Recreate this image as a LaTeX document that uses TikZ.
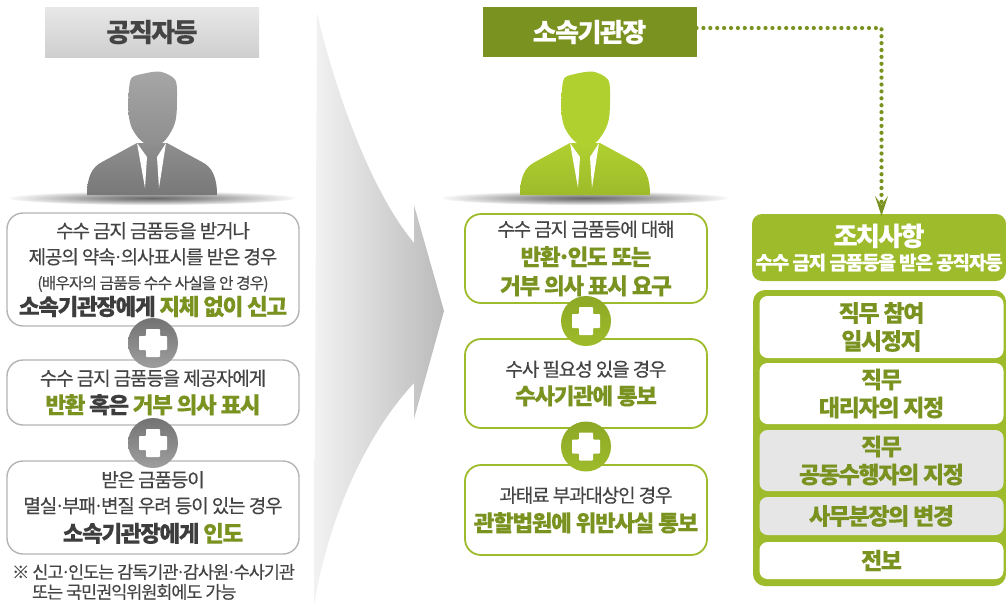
\documentclass[tikz,border=0pt]{standalone}
\usepackage{fontspec}
\setmainfont{Noto Sans CJK KR}[LetterSpace=-6, FakeBold=0.25]
\usetikzlibrary{positioning, calc, arrows.meta}
\definecolor{leafdark}{HTML}{7A9220}
\definecolor{leaf}{HTML}{9DBB2A}
\definecolor{leaflight}{HTML}{B0D030}
\definecolor{inkgray}{HTML}{444444}
\definecolor{rimgray}{HTML}{B4B4B4}
\definecolor{panelgray}{HTML}{E6E6E6}
\definecolor{suithead}{HTML}{A6A6A6}
\definecolor{suittop}{HTML}{8E8E8E}
\definecolor{suitlow}{HTML}{787878}
\pgfdeclareradialshading{floorshade}{\pgfpoint{0bp}{0bp}}{rgb(0bp)=(0.4,0.4,0.4);rgb(10bp)=(0.6,0.6,0.6);rgb(26bp)=(1,1,1)}
\newcommand{\hl}[1]{{\bfseries\color{leafdark}#1}}
\newcommand{\bk}[1]{{\bfseries\color{inkgray!90!black}#1}}
\newcommand{\bigline}[1]{{\fontsize{22.5}{26}\selectfont #1}}
\newcommand{\mdot}{\kern-.15em·\kern-.15em}
\tikzset{
    every node/.style={inner sep=0pt, outer sep=0pt, align=center, text=inkgray, font=\fontsize{19}{26}\selectfont},
    titlebox/.style={minimum width=214pt, minimum height=50pt, font=\bfseries\fontsize{26}{28}\selectfont},
    greybox/.style={draw=rimgray, line width=1.4pt, fill=white, rounded corners=16pt, minimum width=292pt},
    leafbox/.style={draw=leaf, line width=1.8pt, fill=white, rounded corners=16pt, minimum width=242pt},
    dutybox/.style={fill=white, rounded corners=8pt, minimum width=244pt, text=leafdark, font=\bfseries\fontsize{23}{28}\selectfont},
    plusmark/.style={circle, minimum size=50pt, path picture={
        \fill[white, rounded corners=0.8pt] ($(path picture bounding box.center)+(-7,-14)$) -- ++(14,0) -- ++(0,7) -- ++(7,0) -- ++(0,14) -- ++(-7,0) -- ++(0,7) -- ++(-14,0) -- ++(0,-7) -- ++(-7,0) -- ++(0,-14) -- ++(7,0) -- cycle;
    }},
    plusgrey/.style={plusmark, top color=black!55, bottom color=black!38},
    plusleaf/.style={plusmark, top color=leaf!90!black, bottom color=leaf},
    pics/person/.style n args={3}{code={
        \shade[shading=floorshade] (0,3) ellipse (143 and 7);
        \shade[top color=#2, bottom color=#3] (-65,0) .. controls (-65,-18) and (-60,-28) .. (-50,-33) -- (-15,-52) -- (15,-52) -- (50,-33) .. controls (60,-28) and (65,-18) .. (65,0) -- cycle;
        \fill[white] (-15,-52) -- (-5,-38) -- (-7,-7) -- cycle;
        \fill[white] (14,-52) -- (5,-38) -- (7,-7) -- cycle;
        \shade[top color=#1, bottom color=#2] plot[smooth cycle] coordinates {(-20.7,-116.7) (-10,-121) (8.3,-123.3) (23.3,-115) (25,-95) (24,-76.7) (20,-65) (11.7,-53.3) (0,-48.3) (-11.7,-55) (-20,-66.7) (-23.3,-80) (-23.3,-101.7)};
    }},
}
\begin{document}
\begin{tikzpicture}[x=1pt, y=-1pt]
    \useasboundingbox (0,0) rectangle (1006,606);

    % --- Big arrow ---
    \shade[left color=black!5, right color=black!27] (317,13) .. controls (335,90) and (370,190) .. (414,243) -- (414,205) -- (444,311) -- (414,419) -- (414,383) .. controls (370,430) and (330,510) .. (314,605) -- cycle;

    % --- Left column ---
    \node[titlebox, top color=black!9, bottom color=black!19] (stafftitle) at (152,32) {공직자등};
    \pic at (152,195) {person={suithead}{suittop}{suitlow}};

    \node[greybox, minimum height=113pt] (reportbox) at (153,269.5) {\rule{0pt}{16pt}수수 금지 금품등을 받거나\\제공의 약속\mdot 의사표시를 받은 경우\\[-1pt]{\fontsize{15.8}{20}\selectfont (배우자의 금품등 수수 사실을 안 경우)}\\\bigline{\bk{소속기관장에게} \hl{지체 없이 신고}}};
    \node[greybox, minimum height=65pt, below=34pt of reportbox] (returnbox) {수수 금지 금품등을 제공자에게\\[2pt]\bigline{\hl{반환} \bk{혹은} \hl{거부 의사 표시}}};
    \node[greybox, minimum height=93pt, below=36pt of returnbox] (handbox) {받은 금품등이\\멸실\mdot 부패\mdot 변질 우려 등이 있는 경우\\[3pt]\bigline{\bk{소속기관장에게} \hl{인도}}};
    \node[plusgrey] (plusa) at ($(reportbox.south)!.5!(returnbox.north)$) {};
    \node[plusgrey] (plusb) at ($(returnbox.south)!.5!(handbox.north)$) {};
    \node[below=10pt of handbox.south west, anchor=north west, xshift=5pt, align=left, font=\fontsize{17.5}{20}\selectfont] (notetext) {※ 신고\mdot 인도는 감독기관\mdot 감사원\mdot 수사기관\\\hspace*{20pt}또는 국민권익위원회에도 가능};

    % --- Middle column ---
    \node[titlebox, fill=leafdark, text=white] (chieftitle) at (589.5,32) {소속기관장};
    \pic at (585,195) {person={leaflight}{leaflight}{leaf}};

    \node[leafbox, minimum height=89pt] (askbox) at (586,258.5) {수수 금지 금품등에 대해\\[3pt]\bigline{\hl{반환\mdot 인도 또는}}\\[3pt]\bigline{\hl{거부 의사 표시 요구}}};
    \node[leafbox, minimum height=89pt, below=36pt of askbox] (probebox) {수사 필요성 있을 경우\\[2pt]\bigline{\hl{수사기관에 통보}}};
    \node[leafbox, minimum height=90pt, below=37pt of probebox] (courtbox) {과태료 부과대상인 경우\\[3pt]\bigline{\hl{관할법원에 위반사실 통보}}};
    \node[plusleaf] (plusc) at ($(askbox.south)!.5!(probebox.north)$) {};
    \node[plusleaf] (plusd) at ($(probebox.south)!.5!(courtbox.north)$) {};

    % --- Right column ---
    \node[fill=leaf, rounded corners=10pt, minimum width=254pt, minimum height=67pt, text=white, font=\bfseries\fontsize{19}{22}\selectfont] (acthead) at (879,247.5) {{\fontsize{26}{32}\selectfont 조치사항}\\[2pt]수수 금지 금품등을 받은 공직자등};
    \node[fill=leaf, rounded corners=12pt, minimum width=253pt, minimum height=296pt] (actpanel) at (879.5,438) {};
    \node[dutybox, minimum height=62pt] (pausebox) at (881.5,327) {직무 참여\\일시정지};
    \node[dutybox, minimum height=61pt, below=5pt of pausebox] (proxybox) {직무\\대리자의 지정};
    \node[dutybox, minimum height=61pt, fill=panelgray, below=6pt of proxybox] (jointbox) {직무\\공동수행자의 지정};
    \node[dutybox, minimum height=38pt, fill=panelgray, below=6pt of jointbox] (dutychange) {사무분장의 변경};
    \node[dutybox, minimum height=37pt, below=7pt of dutychange] (movebox) {전보};

    % --- Connector ---
    \draw[leafdark, line width=4.2pt, line cap=round, dash pattern=on 0pt off 6.9pt, -{Stealth[length=20pt, width=13pt, inset=9pt]}] ([yshift=4pt]chieftitle.east) -| ([xshift=2.5pt, yshift=-2pt]acthead.north);
\end{tikzpicture}
\end{document}
